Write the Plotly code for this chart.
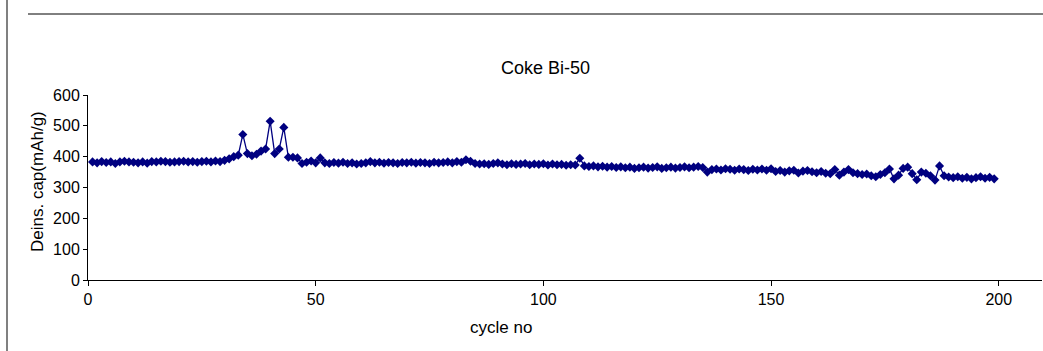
import plotly.graph_objects as go

cycles = list(range(1, 200))
capacity = (
    [383, 380, 384, 381, 383, 378, 383, 385, 383, 382, 380, 383, 379, 384, 383,
     385, 384, 382, 383, 384, 385, 383, 384, 382, 384, 385, 383, 386, 384]
    + [388, 393, 400, 405, 472, 410, 403, 408, 418, 425, 515, 410, 425, 495,
       398, 398, 396, 378, 382, 386, 380, 396]
    + [380, 378, 381, 379, 382, 378, 380, 376, 378, 380, 384, 380, 382, 379, 381,
       380, 378, 381, 380, 382, 379, 381, 380, 378, 382, 380, 381, 383, 380, 384, 382]
    + [390, 385]
    + [378, 376, 377, 375, 378, 380, 376, 374, 377, 375, 376, 378, 374, 376, 375,
       377, 373, 376, 374, 375, 372, 374, 373]
    + [395]
    + [370, 368, 370, 367, 369, 366, 368, 365, 367, 364, 366, 362, 364, 366, 363,
       365, 367, 362, 364, 366, 363, 365, 367, 364, 366, 368, 365]
    + [350]
    + [358, 360, 357, 361, 359, 356, 360, 358, 355, 359, 357, 360, 356, 361]
    + [352, 355, 350, 354, 356, 347, 353, 355, 351, 348, 352, 346]
    + [345, 358, 340, 350, 358, 348, 345, 342, 344, 338, 335, 342, 348]
    + [360, 328, 340, 362, 366, 345, 325, 350, 346, 338, 324, 370, 338]
    + [334, 332, 335, 330, 333, 328, 332, 335, 330, 333, 328]
)

x_ticks = [0, 50, 100, 150, 200]
y_ticks = [0, 100, 200, 300, 400, 500, 600]

FONT = "Liberation Sans, Arial, sans-serif"
NAVY = "#000080"

W, H = 1043, 351
PLOT_L, PLOT_R, PLOT_T, PLOT_B = 88, 1042, 95, 280

def px_x(px):
    return px / W

def px_y(py):
    return (H - py) / H

fig = go.Figure()
fig.add_trace(go.Scatter(
    x=cycles, y=capacity, mode="lines+markers",
    line=dict(color=NAVY, width=1.3),
    marker=dict(symbol="diamond", size=7, color=NAVY),
    showlegend=False,
))
# page frame line on the left edge (drawn on a full-page helper axis)
fig.add_trace(go.Scatter(
    x=[px_x(7), px_x(7)], y=[0, 1], mode="lines",
    line=dict(color="#808080", width=2),
    xaxis="x2", yaxis="y2", showlegend=False, hoverinfo="skip",
))

fig.update_layout(
    width=W, height=H,
    margin=dict(l=0, r=0, t=0, b=0, pad=0, autoexpand=False),
    paper_bgcolor="white", plot_bgcolor="rgba(0,0,0,0)",
    font=dict(family=FONT, size=16, color="black"),
    xaxis=dict(
        domain=[px_x(PLOT_L), px_x(PLOT_R)], automargin=False,
        range=[0, 209.5], tickvals=x_ticks, ticktext=[str(v) for v in x_ticks],
        showgrid=False, zeroline=False, showline=True, linecolor="black",
        linewidth=1, ticks="outside", ticklen=5, tickcolor="black",
        tickfont=dict(size=16),
    ),
    yaxis=dict(
        domain=[px_y(PLOT_B), px_y(PLOT_T)], automargin=False,
        range=[0, 600], tickvals=y_ticks, ticktext=[str(v) for v in y_ticks],
        showgrid=False, zeroline=False, showline=True, linecolor="black",
        linewidth=1, ticks="outside", ticklen=4, tickcolor="black",
        tickfont=dict(size=16),
    ),
    xaxis2=dict(domain=[0, 1], range=[0, 1], visible=False, anchor="y2",
                automargin=False, fixedrange=True),
    yaxis2=dict(domain=[0, 1], range=[0, 1], visible=False, anchor="x2",
                automargin=False, fixedrange=True),
    annotations=[
        dict(text="Coke Bi-50", xref="paper", yref="paper",
             x=px_x(545), y=px_y(68), showarrow=False,
             xanchor="center", yanchor="middle", font=dict(size=18)),
        dict(text="cycle no", xref="paper", yref="paper",
             x=px_x(501), y=px_y(327), showarrow=False,
             xanchor="center", yanchor="middle", font=dict(size=17)),
        dict(text="Deins. cap(mAh/g)", xref="paper", yref="paper",
             x=px_x(37), y=px_y(182), showarrow=False, textangle=-90,
             xanchor="center", yanchor="middle", font=dict(size=17)),
    ],
    shapes=[
        dict(type="line", xref="paper", yref="paper",
             x0=px_x(28), x1=1, y0=px_y(14), y1=px_y(14),
             line=dict(color="black", width=1)),
    ],
)

fig.write_html("out.html")
